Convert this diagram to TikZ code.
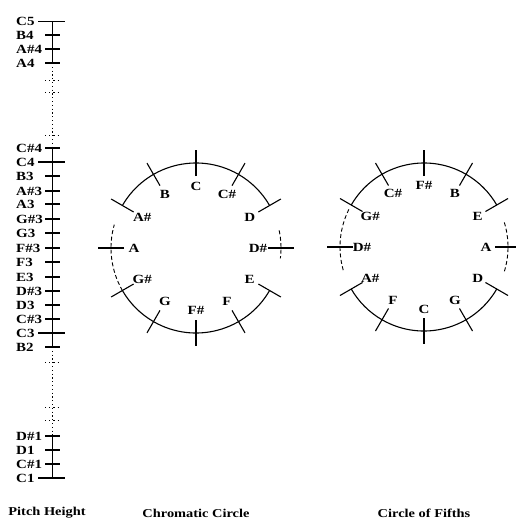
\documentclass[tikz,border=0pt]{standalone}
\usepackage{fontspec}
\setmainfont{Liberation Serif}[FakeStretch=1.2]
\usetikzlibrary{positioning}
\tikzset{
    note_lbl/.style={font=\bfseries\fontsize{12.5}{14}\selectfont, inner sep=0pt, text height=8.4pt, text depth=0pt},
    axis_lbl/.style={note_lbl, anchor=west},
    caption_lbl/.style={font=\bfseries\fontsize{12}{14}\selectfont, inner sep=0pt},
    axis_line/.style={line width=0.8pt},
    axis_dots/.style={line width=0.9pt, dash pattern=on 1.2pt off 2.6pt},
    long_tick/.style={line width=1.2pt},
    short_tick/.style={line width=1.2pt},
    dot_tick/.style={line width=1pt, dash pattern=on 1.2pt off 3pt},
    circ_line/.style={line width=1.1pt},
    circ_dash/.style={line width=0.9pt, dash pattern=on 4pt off 2.5pt},
    circ_tick/.style={line width=1.1pt}
}

\begin{document}
\begin{tikzpicture}[x=1pt, y=-1pt]
\useasboundingbox (0,0) rectangle (516,523);

% pitch height axis
\draw[axis_line] (52,21.5) -- (52,63);
\draw[axis_dots] (52,63) -- (52,148);
\draw[axis_line] (52,148) -- (52,347);
\draw[axis_dots] (52,347) -- (52,436);
\draw[axis_line] (52,436) -- (52,478);
\foreach \y in {21.5,162,333,478}
    \draw[long_tick] (38,\y) -- (65,\y);
\foreach \y in {35,49,63,148,176,191,204,219,233,248,262,277,291,305,319,347,436,450,464}
    \draw[short_tick] (45,\y) -- (60,\y);
\foreach \y in {80,92,135,362,407,420}
    \draw[dot_tick] (45,\y) -- (60,\y);
\foreach \nm/\txt/\y in {c5/C5/21.5, b4/B4/35, as4/A\#4/49, a4/A4/63,
        cs4/C\#4/148, c4/C4/162, b3/B3/176, as3/A\#3/191, a3/A3/204,
        gs3/G\#3/219, g3/G3/233, fs3/F\#3/248, f3/F3/262, e3/E3/277,
        ds3/D\#3/291, d3/D3/305, cs3/C\#3/319, c3/C3/333, b2/B2/347,
        ds1/D\#1/436, d1/D1/450, cs1/C\#1/464, c1/C1/478}
    \node[axis_lbl] (p\nm) at (16,\y) {\txt};

% chromatic circle
\coordinate (chroma) at (196,248);
\draw[circ_line] (chroma) ++(210:85) arc[start angle=210, end angle=330, radius=85];
\draw[circ_line] (chroma) ++(30:85) arc[start angle=30, end angle=150, radius=85];
\draw[circ_dash] (chroma) ++(150:85) arc[start angle=150, end angle=196, radius=85];
\draw[circ_dash] (chroma) ++(-12:85) arc[start angle=-12, end angle=7, radius=85];
\foreach \k in {0,...,11}
    \draw[circ_tick] (chroma) ++(30*\k-90:72) -- ++(30*\k-90:26);
\foreach \k/\nm/\txt in {0/c/C, 1/cs/C\#, 2/d/D, 3/ds/D\#, 4/e/E, 5/f/F,
        6/fs/F\#, 7/g/G, 8/gs/G\#, 9/a/A, 10/as/A\#, 11/b/B}
    \node[note_lbl] (chr\nm) at ([shift={(30*\k-90:62)}]chroma) {\txt};

% circle of fifths
\coordinate (fifths) at (424,247);
\draw[circ_line] (fifths) ++(210:84) arc[start angle=210, end angle=330, radius=84];
\draw[circ_line] (fifths) ++(30:84) arc[start angle=30, end angle=150, radius=84];
\draw[circ_dash] (fifths) ++(164:84) arc[start angle=164, end angle=208, radius=84];
\draw[circ_dash] (fifths) ++(-17:84) arc[start angle=-17, end angle=17, radius=84];
\foreach \k in {0,...,11}
    \draw[circ_tick] (fifths) ++(30*\k-90:71) -- ++(30*\k-90:26);
\foreach \k/\nm/\txt in {0/fs/F\#, 1/b/B, 2/e/E, 3/a/A, 4/d/D, 5/g/G,
        6/c/C, 7/f/F, 8/as/A\#, 9/ds/D\#, 10/gs/G\#, 11/cs/C\#}
    \node[note_lbl] (fif\nm) at ([shift={(30*\k-90:62)}]fifths) {\txt};

% captions
\node[caption_lbl] (cap_pitch) at (47,513) {Pitch Height};
\node[caption_lbl] (cap_chroma) at (196,513) {Chromatic Circle};
\node[caption_lbl] (cap_fifths) at (424,513) {Circle of Fifths};
\end{tikzpicture}
\end{document}
